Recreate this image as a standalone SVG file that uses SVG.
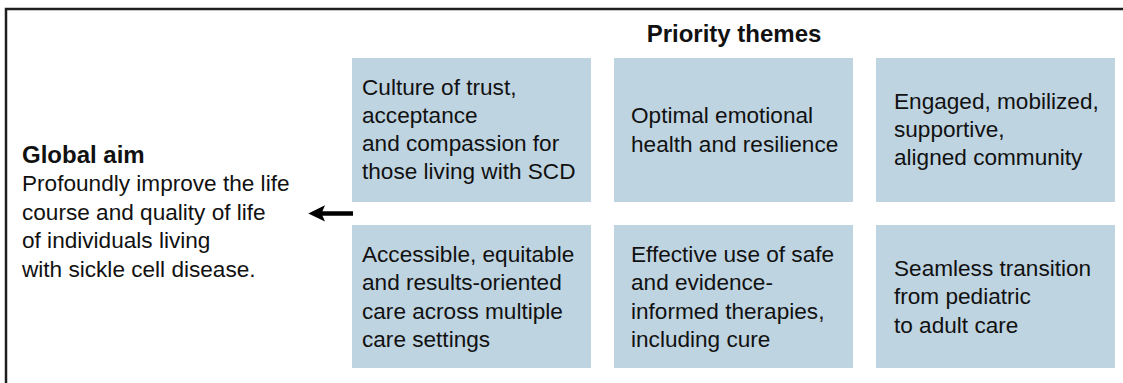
<svg xmlns="http://www.w3.org/2000/svg" width="1123" height="383" viewBox="0 0 1123 383">
  <style>
    .frame { fill: none; stroke: #1e1e1e; stroke-width: 2.5; }
    .box { fill: #bfd4e1; }
    .txt { font-family: "Liberation Sans", Arial, Helvetica, sans-serif; font-size: 22.6px; fill: #111; }
    .bold { font-weight: bold; font-size: 24px; }
    .link { stroke: #000; stroke-width: 4.5; fill: none; }
    .head { fill: #000; }
  </style>

  <rect width="1123" height="383" fill="#fff"/>

  <!-- outer frame: only the top and left edges fall inside the canvas -->
  <path class="frame" d="M6 400 V9 H1130"/>

  <!-- heading above the theme grid -->
  <g id="heading">
    <text class="txt bold" x="734" y="42" text-anchor="middle">Priority themes</text>
  </g>

  <!-- global aim -->
  <g id="global-aim">
    <text class="txt bold" x="22" y="162.5">Global aim</text>
    <text class="txt" x="22" y="191">Profoundly improve the life</text>
    <text class="txt" x="22" y="219.5">course and quality of life</text>
    <text class="txt" x="22" y="248">of individuals living</text>
    <text class="txt" x="22" y="276.5">with sickle cell disease.</text>
  </g>

  <!-- theme boxes, top row -->
  <g id="theme-trust">
    <rect class="box" x="352" y="58" width="239" height="144"/>
    <text class="txt" x="362" y="94.5">Culture of trust,</text>
    <text class="txt" x="362" y="122.8">acceptance</text>
    <text class="txt" x="362" y="151.1">and compassion for</text>
    <text class="txt" x="362" y="179.4">those living with SCD</text>
  </g>
  <g id="theme-emotional">
    <rect class="box" x="614" y="58" width="239" height="144"/>
    <text class="txt" x="631" y="123.3">Optimal emotional</text>
    <text class="txt" x="631" y="151.6">health and resilience</text>
  </g>
  <g id="theme-community">
    <rect class="box" x="876" y="58" width="239" height="144"/>
    <text class="txt" x="894" y="108.5">Engaged, mobilized,</text>
    <text class="txt" x="894" y="136.8">supportive,</text>
    <text class="txt" x="894" y="165.1">aligned community</text>
  </g>

  <!-- theme boxes, bottom row -->
  <g id="theme-care">
    <rect class="box" x="352" y="225" width="239" height="143"/>
    <text class="txt" x="362" y="261.5">Accessible, equitable</text>
    <text class="txt" x="362" y="290">and results-oriented</text>
    <text class="txt" x="362" y="318.5">care across multiple</text>
    <text class="txt" x="362" y="347">care settings</text>
  </g>
  <g id="theme-therapies">
    <rect class="box" x="614" y="225" width="239" height="143"/>
    <text class="txt" x="631" y="261.5">Effective use of safe</text>
    <text class="txt" x="631" y="290">and evidence-</text>
    <text class="txt" x="631" y="318.5">informed therapies,</text>
    <text class="txt" x="631" y="347">including cure</text>
  </g>
  <g id="theme-transition">
    <rect class="box" x="876" y="225" width="239" height="143"/>
    <text class="txt" x="894" y="276">Seamless transition</text>
    <text class="txt" x="894" y="304.3">from pediatric</text>
    <text class="txt" x="894" y="332.6">to adult care</text>
  </g>

  <!-- connector: themes feed the global aim -->
  <g id="connectors">
    <line class="link" x1="353" y1="213.4" x2="320" y2="213.4"/>
    <path class="head" d="M308.3 213.4 L325 205.2 L321.5 213.4 L325 221.6 Z"/>
  </g>
</svg>
